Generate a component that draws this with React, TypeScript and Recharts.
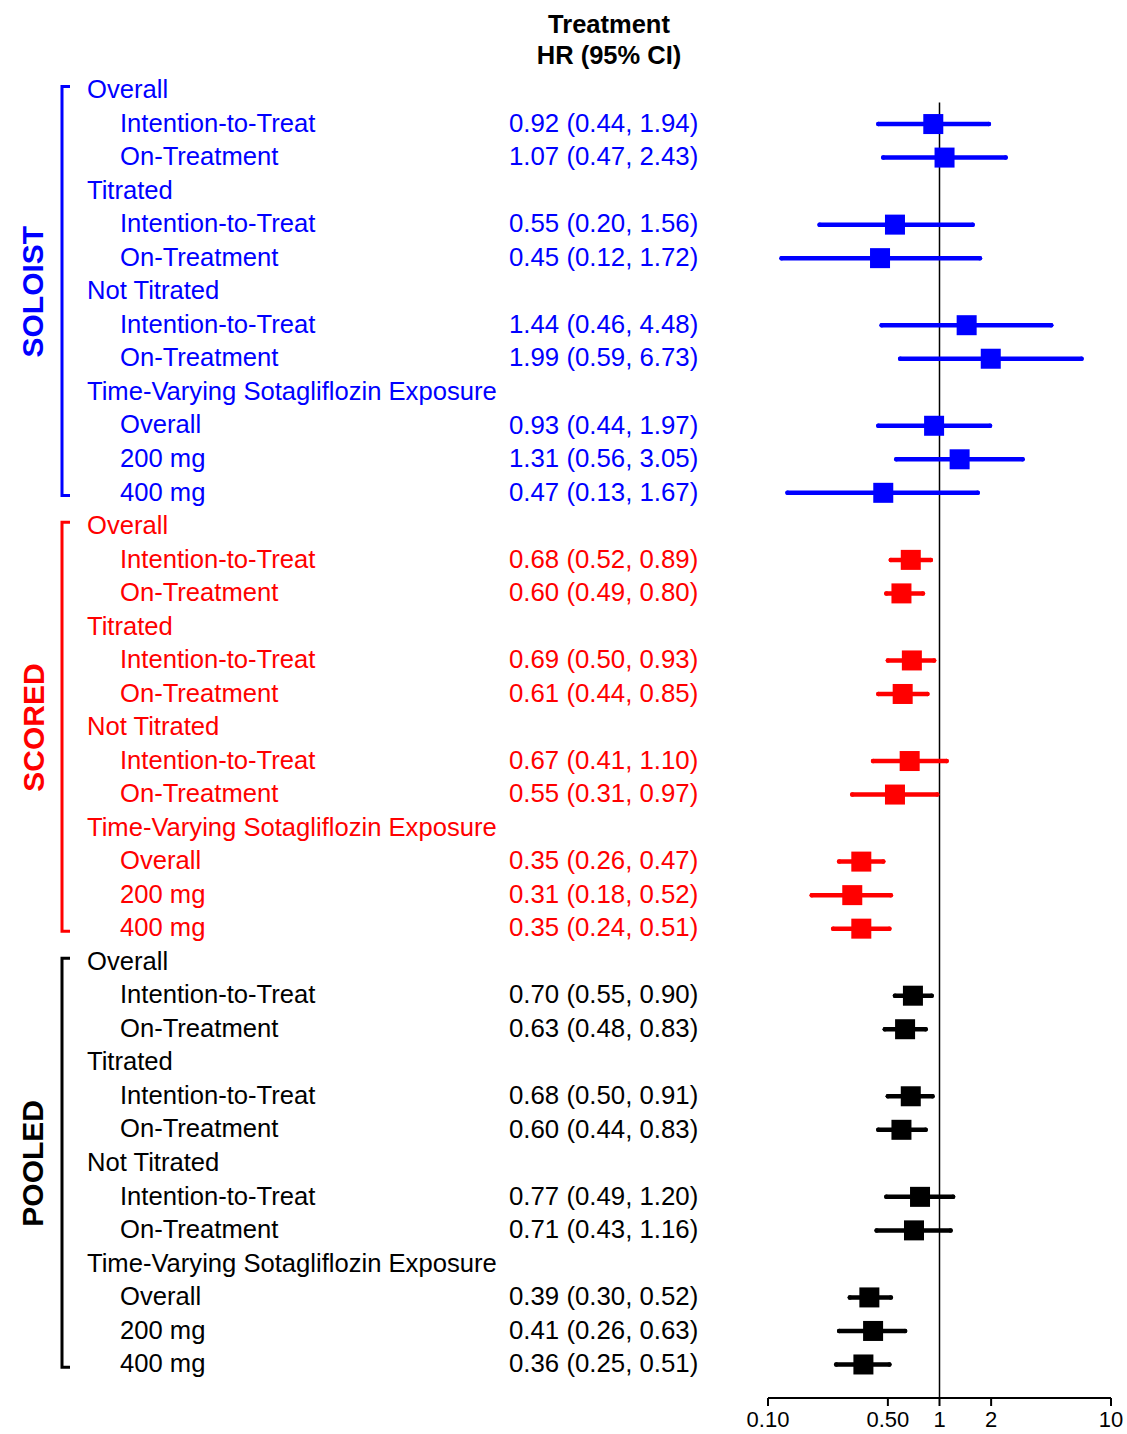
import React from 'react'
import { ScatterChart, Scatter, XAxis, YAxis, ErrorBar, ReferenceLine } from 'recharts'

const GROUPS = ['SOLOIST', 'SCORED', 'POOLED']
const GROUP_COLORS = ['#0000ff', '#ff0000', '#000000']
const ROW_LABELS = [
  'Overall', 'Intention-to-Treat', 'On-Treatment',
  'Titrated', 'Intention-to-Treat', 'On-Treatment',
  'Not Titrated', 'Intention-to-Treat', 'On-Treatment',
  'Time-Varying Sotagliflozin Exposure', 'Overall', '200 mg', '400 mg',
]
const IS_HEADER = [true, false, false, true, false, false, true, false, false, true, false, false, false]

const soloistHR = [null, 0.92, 1.07, null, 0.55, 0.45, null, 1.44, 1.99, null, 0.93, 1.31, 0.47]
const soloistLo = [null, 0.44, 0.47, null, 0.20, 0.12, null, 0.46, 0.59, null, 0.44, 0.56, 0.13]
const soloistHi = [null, 1.94, 2.43, null, 1.56, 1.72, null, 4.48, 6.73, null, 1.97, 3.05, 1.67]

const scoredHR = [null, 0.68, 0.60, null, 0.69, 0.61, null, 0.67, 0.55, null, 0.35, 0.31, 0.35]
const scoredLo = [null, 0.52, 0.49, null, 0.50, 0.44, null, 0.41, 0.31, null, 0.26, 0.18, 0.24]
const scoredHi = [null, 0.89, 0.80, null, 0.93, 0.85, null, 1.10, 0.97, null, 0.47, 0.52, 0.51]

const pooledHR = [null, 0.70, 0.63, null, 0.68, 0.60, null, 0.77, 0.71, null, 0.39, 0.41, 0.36]
const pooledLo = [null, 0.55, 0.48, null, 0.50, 0.44, null, 0.49, 0.43, null, 0.30, 0.26, 0.25]
const pooledHi = [null, 0.90, 0.83, null, 0.91, 0.83, null, 1.20, 1.16, null, 0.52, 0.63, 0.51]

const X_TICKS = [0.1, 0.5, 1, 2, 10]

const SERIES = [
  [soloistHR, soloistLo, soloistHi],
  [scoredHR, scoredLo, scoredHi],
  [pooledHR, pooledLo, pooledHi],
]

const N = ROW_LABELS.length
const ROW_H = 33.5
const FONT = '"Liberation Sans", Arial, sans-serif'

type Pt = { row: number; hr: number; err: [number, number] }

const groupData: Pt[][] = SERIES.map(([hr, lo, hi], g) => {
  const out: Pt[] = []
  hr.forEach((v, i) => {
    if (v == null) return
    out.push({ row: g * N + i, hr: v, err: [v - (lo[i] as number), (hi[i] as number) - v] })
  })
  return out
})

const allRows = Array.from({ length: GROUPS.length * N }, (_, i) => i)

const fmt = (v: number) => v.toFixed(2)

function RowTick(props: any) {
  const { y, payload } = props
  const row = payload.value as number
  const g = Math.floor(row / N)
  const i = row % N
  const color = GROUP_COLORS[g]
  const [hr, lo, hi] = SERIES[g]
  const header = IS_HEADER[i]
  return (
    <g fontFamily={FONT}>
      {row === 0 && (
        <g fontWeight="bold" fontSize={25.5} textAnchor="middle" fill="#000">
          <text x={609} y={y - 58}>Treatment</text>
          <text x={609} y={y - 27}>HR (95% CI)</text>
        </g>
      )}
      {i === 0 && (
        <path
          d={`M70,${y - 4} H62 V${y + (N - 1) * ROW_H + 3} H70`}
          stroke={color} strokeWidth={3} fill="none"
        />
      )}
      {i === 6 && (
        <text
          x={33} y={y} fill={color} fontSize={30} fontWeight="bold" textAnchor="middle"
          dominantBaseline="central" transform={`rotate(-90, 33, ${y})`}
        >{GROUPS[g]}</text>
      )}
      <text x={header ? 87 : 120} y={y} dy="0.3em" fontSize={25.6} fill={color}>{ROW_LABELS[i]}</text>
      {hr[i] != null && (
        <text x={509} y={y} dy="0.3em" fontSize={25.8} fill={color}>
          {`${fmt(hr[i] as number)} (${fmt(lo[i] as number)}, ${fmt(hi[i] as number)})`}
        </text>
      )}
    </g>
  )
}

const square = (color: string) => (p: any) => (
  <rect x={p.cx - 10} y={p.cy - 10} width={20} height={20} fill={color} />
)

export default function App() {
  return (
    <div style={{ position: 'absolute', left: 0, top: 0, background: '#fff' }}>
      <ScatterChart width={1127} height={1434} margin={{ top: 57, right: 16, bottom: 0, left: 0 }}>
        <XAxis
          dataKey="hr" type="number" scale="log" domain={[0.1, 10]} ticks={X_TICKS}
          allowDataOverflow height={36} tickSize={8} tickMargin={5}
          axisLine={{ stroke: '#000', strokeWidth: 2 }}
          tickLine={{ stroke: '#000', strokeWidth: 2 }}
          tick={{ fill: '#000', fontSize: 22, fontFamily: FONT }}
          tickFormatter={(v: number) => (v < 1 ? v.toFixed(2) : String(v))}
        />
        <YAxis
          dataKey="row" type="number" domain={[-1, 39]} reversed width={768}
          ticks={allRows} interval={0} axisLine={false} tickLine={false} tick={<RowTick />}
        />
        <ReferenceLine
          segment={[{ x: 1, y: 0.36 }, { x: 1, y: 39 }]}
          stroke="#000" strokeWidth={1.5} ifOverflow="visible"
        />
        {groupData.map((data, g) => (
          <Scatter key={GROUPS[g]} data={data} isAnimationActive={false} shape={square(GROUP_COLORS[g])}>
            <ErrorBar dataKey="err" direction="x" width={0} stroke={GROUP_COLORS[g]} strokeWidth={4.5} strokeLinecap="round" />
          </Scatter>
        ))}
      </ScatterChart>
    </div>
  )
}
